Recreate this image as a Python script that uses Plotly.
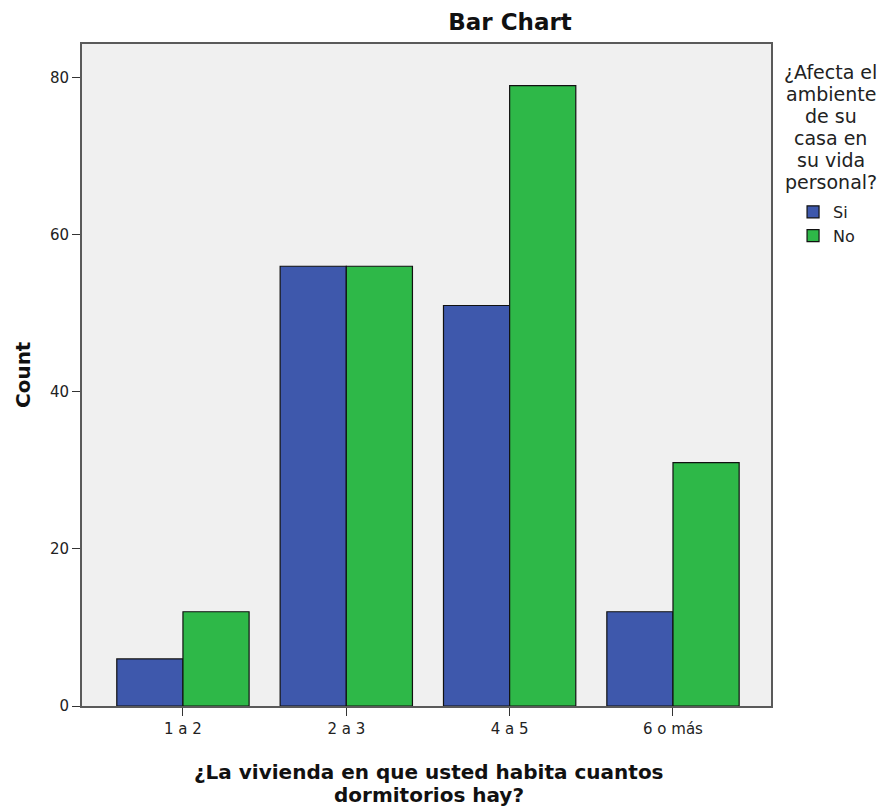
import plotly.graph_objects as go

categories = ["1 a 2", "2 a 3", "4 a 5", "6 o más"]
si_values = [6, 56, 51, 12]
no_values = [12, 56, 79, 31]
y_ticks = [0, 20, 40, 60, 80]
legend_title_lines = ["¿Afecta el", "ambiente", "de su", "casa en", "su vida", "personal?"]
x_title_lines = ["¿La vivienda en que usted habita cuantos", "dormitorios hay?"]

FONT = "DejaVu Sans, Liberation Sans, Arial, sans-serif"

fig = go.Figure()
fig.add_trace(go.Bar(x=categories, y=si_values, name="Si",
                     marker=dict(color="#3E58AC", line=dict(color="#111111", width=1.2))))
fig.add_trace(go.Bar(x=categories, y=no_values, name="No",
                     marker=dict(color="#2EB848", line=dict(color="#111111", width=1.2))))

# page body adds an 8px offset, so the figure is sized 8px smaller
fig.update_layout(
    width=877, height=801,
    margin=dict(l=74, r=114, t=36, b=103, autoexpand=False),
    paper_bgcolor="white", plot_bgcolor="#F0F0F0",
    barmode="group", bargap=0.19, bargroupgap=0,
    font=dict(family=FONT, color="#222222", size=15),
    title=dict(text="<b>Bar Chart</b>", x=0.5724, xanchor="center", y=0.9825, yanchor="middle",
               font=dict(family=FONT, size=23, color="#111111")),
    showlegend=True,
    legend=dict(x=1.032, y=0.772, xanchor="left", yanchor="top", bgcolor="rgba(0,0,0,0)",
                font=dict(family=FONT, size=16, color="#222222"), itemwidth=30, tracegroupgap=0),
    xaxis=dict(type="category", range=[-0.618, 3.6], showline=True, linecolor="#5A5A5A", linewidth=2,
               mirror=True, ticks="outside", ticklen=8, tickcolor="#333333", tickwidth=1,
               tickfont=dict(family=FONT, size=15, color="#222222"), showgrid=False),
    yaxis=dict(range=[0, 84.3], tickvals=y_ticks, showline=True, linecolor="#5A5A5A", linewidth=2,
               mirror=True, ticks="outside", ticklen=8, tickcolor="#333333", tickwidth=1,
               tickfont=dict(family=FONT, size=15, color="#222222"), showgrid=False, zeroline=False),
)

# y-axis title
fig.add_annotation(text="<b>Count</b>", xref="paper", yref="paper", x=-0.0856, y=0.5,
                   xanchor="center", yanchor="middle", textangle=-90, showarrow=False,
                   font=dict(family=FONT, size=20, color="#111111"))

# x-axis title (two tight lines)
for i, line in enumerate(x_title_lines):
    fig.add_annotation(text="<b>" + line + "</b>", xref="paper", yref="paper",
                       x=0.5036, y=(706 - 772) / 662 - i * 23 / 662, xanchor="center", yanchor="middle",
                       showarrow=False, font=dict(family=FONT, size=20, color="#111111"))

# legend title (tight lines)
for i, line in enumerate(legend_title_lines):
    fig.add_annotation(text=line, xref="paper", yref="paper",
                       x=1.0864, y=(706 - 72) / 662 - i * 22 / 662, xanchor="center", yanchor="middle",
                       showarrow=False, font=dict(family=FONT, size=19, color="#222222"))

fig.write_html("out.html")
